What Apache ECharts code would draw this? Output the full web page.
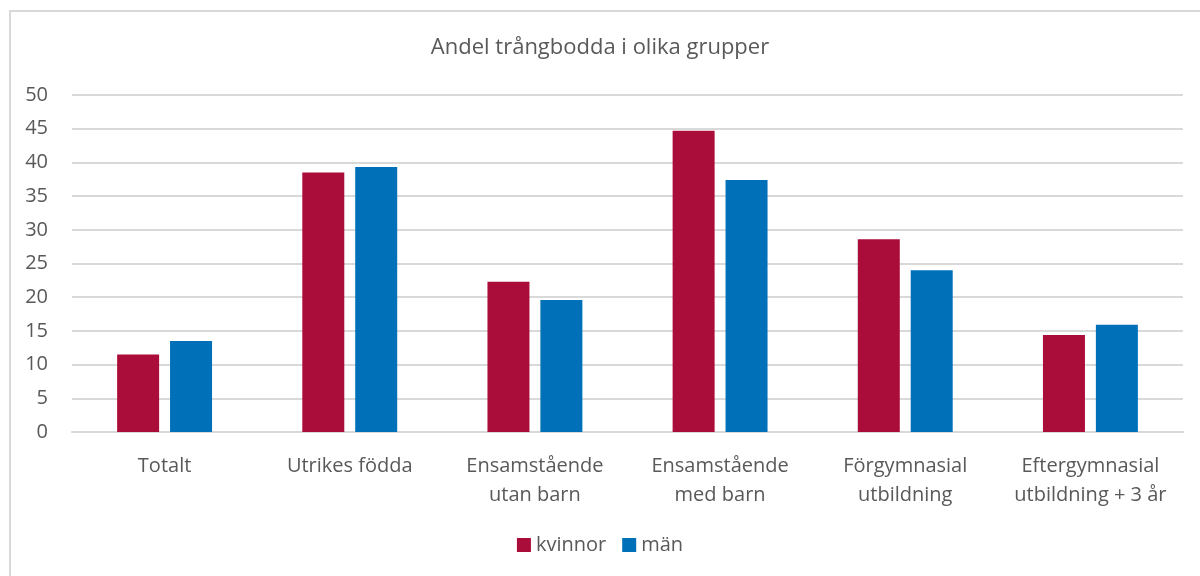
<!DOCTYPE html>
<html>
<head>
<meta charset="utf-8">
<script src="https://cdn.jsdelivr.net/npm/echarts@6/dist/echarts.min.js"></script>
<style>
  html, body {margin: 0; padding: 0; background: #fff;}
  #frame {position: absolute; left: 9px; top: 10px; width: 1191px; height: 566px;
    border-left: 2px solid #d9d9d9; border-top: 2px solid #d9d9d9; box-sizing: border-box;}
  #chart {position: absolute; left: 0; top: 0; width: 1200px; height: 576px;}
</style>
</head>
<body>
<div id="frame"></div>
<div id="chart"></div>
<script>
const categories = [
  'Totalt',
  'Utrikes födda',
  'Ensamstående\nutan barn',
  'Ensamstående\nmed barn',
  'Förgymnasial\nutbildning',
  'Eftergymnasial\nutbildning + 3 år'
];
const kvinnor = [11.5, 38.5, 22.3, 44.7, 28.6, 14.4];
const man = [13.5, 39.3, 19.6, 37.4, 24.0, 15.9];

const textColor = '#595959';
const font = '"Open Sans", "Noto Sans", sans-serif';

const chart = echarts.init(document.getElementById('chart'));
chart.setOption({
  animation: false,
  textStyle: {fontFamily: font},
  title: {
    text: 'Andel trångbodda i olika grupper',
    left: 'center',
    top: 32,
    textStyle: {color: textColor, fontSize: 22, fontWeight: 'normal', fontFamily: font}
  },
  legend: {
    bottom: 16,
    left: 'center',
    itemWidth: 14,
    itemHeight: 14,
    itemGap: 16,
    icon: 'rect',
    textStyle: {color: textColor, fontSize: 20, fontFamily: font},
    data: ['kvinnor', 'män']
  },
  grid: {left: 72, right: 17, top: 95, bottom: 144, containLabel: false},
  xAxis: {
    type: 'category',
    data: categories,
    axisLine: {lineStyle: {color: '#d9d9d9', width: 2}},
    axisTick: {show: false},
    axisLabel: {color: textColor, fontSize: 20, lineHeight: 29, margin: 20, interval: 0, fontFamily: font}
  },
  yAxis: {
    type: 'value',
    min: 0,
    max: 50,
    interval: 5,
    axisLine: {show: false},
    axisTick: {show: false},
    splitLine: {lineStyle: {color: '#d9d9d9', width: 2}},
    axisLabel: {color: textColor, fontSize: 20, margin: 24, fontFamily: font}
  },
  series: [
    {name: 'kvinnor', type: 'bar', data: kvinnor, itemStyle: {color: '#ab0d3a'}},
    {name: 'män', type: 'bar', data: man, itemStyle: {color: '#0070b8'}}
  ].map(s => ({...s, barWidth: 42, barGap: '26%'}))
});
</script>
</body>
</html>
